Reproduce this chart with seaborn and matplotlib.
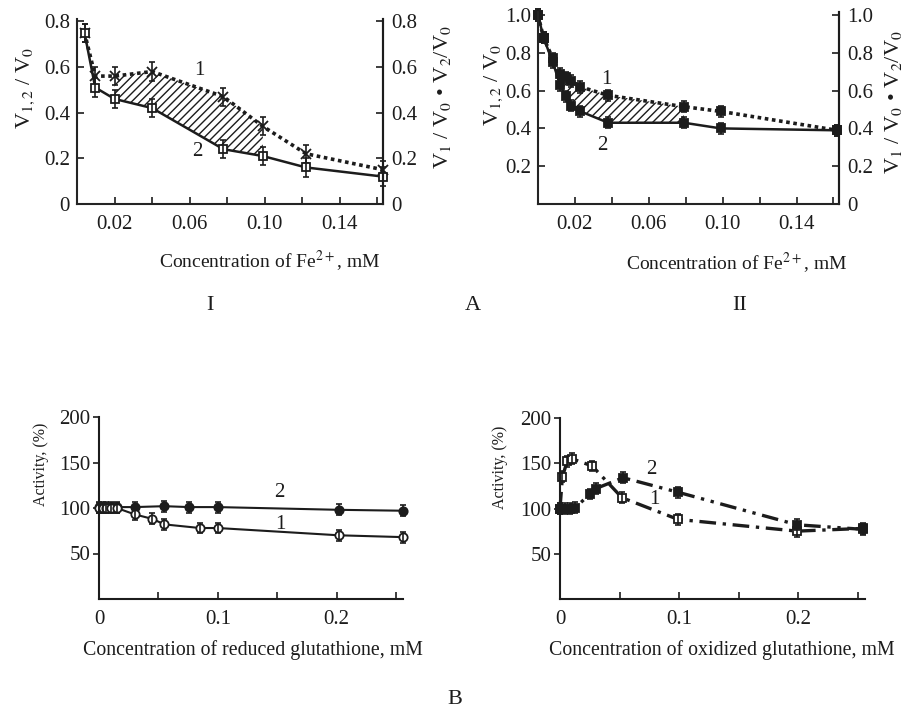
import numpy as np
import seaborn as sns
import matplotlib.pyplot as plt

sns.set_theme(style="ticks")
plt.rcParams['font.family'] = ['Liberation Serif', 'DejaVu Serif']
plt.rcParams['mathtext.fontset'] = 'stix'
plt.rcParams['hatch.linewidth'] = 1.0

ink = "#1c1c1c"

# A-I : Fe2+ (panel I)
fe1_x = [0.004, 0.0097, 0.020, 0.040, 0.078, 0.099, 0.122, 0.163]
fe1_v1 = [0.75, 0.56, 0.56, 0.58, 0.47, 0.34, 0.22, 0.15]
fe1_v2 = [0.75, 0.51, 0.46, 0.42, 0.24, 0.21, 0.16, 0.12]
fe1_err = [0.04, 0.04, 0.04, 0.04, 0.04, 0.04, 0.04, 0.04]

# A-II : Fe2+ (panel II)
fe2_x = [0.0, 0.003, 0.008, 0.012, 0.015, 0.018, 0.023, 0.038, 0.079, 0.099, 0.162]
fe2_v1 = [1.0, 0.88, 0.77, 0.69, 0.67, 0.65, 0.62, 0.575, 0.515, 0.49, 0.39]
fe2_v2 = [1.0, 0.88, 0.75, 0.63, 0.57, 0.52, 0.49, 0.43, 0.43, 0.40, 0.39]
fe2_err = [0.03] * 11

# B : reduced glutathione
red_x1 = [0.0, 0.003, 0.006, 0.010, 0.015, 0.030, 0.045, 0.055, 0.085, 0.100, 0.202, 0.256]
red_y1 = [100, 100, 100, 100, 100, 93, 88, 82, 78, 78, 70, 68]
red_x2 = [0.0, 0.003, 0.006, 0.010, 0.015, 0.030, 0.055, 0.076, 0.100, 0.202, 0.256]
red_y2 = [101, 101, 101, 101, 101, 101, 102, 101, 101, 98, 97]

# B : oxidized glutathione
ox_x1 = [0.0, 0.002, 0.006, 0.010, 0.027, 0.052, 0.099, 0.199, 0.254]
ox_y1 = [100, 135, 152, 155, 147, 112, 88, 75, 78]
ox_x2 = [0.0, 0.004, 0.008, 0.013, 0.025, 0.030, 0.053, 0.099, 0.199, 0.254]
ox_y2 = [100, 100, 100, 101, 116, 122, 134, 118, 82, 77]
act_err = 6

W, H = 910, 716
fig = plt.figure(figsize=(W / 100, H / 100), dpi=100)


def box(l, t, r, b):
    return [l / W, (H - b) / H, (r - l) / W, (b - t) / H]


def curve(ax, x, y, err, ls, lw, marker, mfc, ms=6):
    sns.lineplot(x=x, y=y, ax=ax, color=ink, linewidth=lw, sort=False,
                 marker=marker, markersize=ms, markerfacecolor=mfc,
                 markeredgecolor=ink, markeredgewidth=1.3, clip_on=False)
    ax.lines[-1].set_linestyle(ls)
    ax.errorbar(x, y, yerr=err, fmt='none', ecolor=ink, elinewidth=1.2,
                capsize=2.5, capthick=1.2, clip_on=False)


def style_a(ax, top, ylab_left, lab_l, lab_r, lx, rx, ly, ry, xlx):
    ax.set_xlim(0, 0.163)
    ax.set_ylim(0, top)
    ax.set_xticks([0.02, 0.06, 0.10, 0.14], ["0.02", "0.06", "0.10", "0.14"])
    ax.set_xticks([0.04, 0.08, 0.12, 0.16], minor=True)
    ax.tick_params(axis='x', which='both', direction='in', length=5, width=1.2,
                   labelsize=15, colors=ink, pad=8)
    ax.tick_params(axis='y', direction='in', length=5, width=1.2, labelsize=15,
                   colors=ink, pad=5)
    ax.set_yticks(ylab_left, [f"{v:g}" if v != 1 else "1.0" for v in ylab_left])
    for s in ['left', 'bottom', 'right']:
        ax.spines[s].set_linewidth(1.5)
        ax.spines[s].set_color(ink)
    ax.spines['top'].set_visible(False)
    ax.set_xlabel("Concentration of Fe$^{2+}$, mM", fontsize=14, color=ink)
    ax.xaxis.set_label_coords(xlx, -0.24)
    ax.set_ylabel(lab_l, fontsize=16, color=ink)
    ax.yaxis.set_label_coords(lx, ly)
    ax2 = ax.twinx()
    ax2.set_ylim(0, top)
    rt = [0, 0.2, 0.4, 0.6, 0.8] + ([1.0] if top > 0.9 else [])
    ax2.set_yticks(rt, [f"{v:.1f}" if v else "0" for v in rt])
    ax2.tick_params(axis='y', direction='in', length=5, width=1.2, labelsize=15,
                    colors=ink, pad=6)
    ax2.spines['top'].set_visible(False)
    ax2.spines['right'].set_linewidth(1.5)
    ax2.spines['right'].set_color(ink)
    ax2.set_ylabel(lab_r, fontsize=16, color=ink, rotation=90)
    ax2.yaxis.set_label_coords(rx, ry)


lab_l = r"V$_{1,2}$ / V$_0$"
lab_r = r"V$_1$ / V$_0$ • V$_2$/V$_0$"

# panel I
ax1 = fig.add_axes(box(77, 19, 383, 204))
ax1.fill_between(fe1_x[2:6], fe1_v2[2:6], fe1_v1[2:6], facecolor='none',
                 edgecolor=ink, hatch='////', linewidth=0)
curve(ax1, fe1_x, fe1_v1, fe1_err, (0, (1, 1)), 2.6, 'x', ink, ms=7)
curve(ax1, fe1_x, fe1_v2, fe1_err, '-', 1.8, 's', 'white')
ax1.text(0.065, 0.585, "1", fontsize=15, color=ink, ha='center', va='center')
ax1.text(0.064, 0.23, "2", fontsize=15, color=ink, ha='center', va='center')
style_a(ax1, 0.81, [0, 0.2, 0.4, 0.6, 0.8], lab_l, lab_r, -0.13, 1.16, 0.63, 0.58, 0.63)

# panel II
ax2 = fig.add_axes(box(538, 12, 839, 204))
ax2.fill_between(fe2_x[3:9], fe2_v2[3:9], fe2_v1[3:9], facecolor='none',
                 edgecolor=ink, hatch='////', linewidth=0)
curve(ax2, fe2_x, fe2_v1, fe2_err, (0, (1, 1)), 2.6, 's', ink)
curve(ax2, fe2_x, fe2_v2, fe2_err, '-', 1.8, 's', ink)
ax2.text(0.037, 0.66, "1", fontsize=15, color=ink, ha='center', va='center')
ax2.text(0.035, 0.31, "2", fontsize=15, color=ink, ha='center', va='center')
style_a(ax2, 1.016, [0.2, 0.4, 0.6, 0.8, 1.0], lab_l, lab_r, -0.11, 1.146, 0.62, 0.53, 0.66)


def style_b(ax, xlab, lx, ly, xlx):
    ax.set_xlim(0, 0.256)
    ax.set_ylim(0, 200)
    ax.set_xticks([0, 0.1, 0.2], ["0", "0.1", "0.2"])
    ax.set_xticks([0.05, 0.15, 0.25], minor=True)
    ax.set_yticks([50, 100, 150, 200])
    ax.tick_params(axis='x', which='both', direction='in', length=5, width=1.2,
                   labelsize=15, colors=ink, pad=8)
    ax.tick_params(axis='y', direction='out', length=4, width=1.2, labelsize=15,
                   colors=ink, pad=2)
    for s in ['left', 'bottom']:
        ax.spines[s].set_linewidth(1.5)
        ax.spines[s].set_color(ink)
    sns.despine(ax=ax)
    ax.set_xlabel(xlab, fontsize=14.3, color=ink)
    ax.xaxis.set_label_coords(xlx, -0.225)
    ax.set_ylabel("Activity, (%)", fontsize=11.5, color=ink)
    ax.yaxis.set_label_coords(lx, ly)


ax3 = fig.add_axes(box(99, 417, 403, 599))
curve(ax3, red_x2, red_y2, act_err, '-', 1.5, 'o', ink)
curve(ax3, red_x1, red_y1, act_err, '-', 1.5, 'o', 'white')
ax3.text(0.152, 117, "2", fontsize=15, color=ink, ha='center', va='center')
ax3.text(0.153, 82, "1", fontsize=15, color=ink, ha='center', va='center')
style_b(ax3, "Concentration of reduced glutathione, mM", -0.165, 0.74, 0.505)

ax4 = fig.add_axes(box(560, 418, 865, 599))
curve(ax4, ox_x1, ox_y1, act_err, (0, (5, 2, 1, 2)), 2.4, 's', 'white')
curve(ax4, ox_x2, ox_y2, act_err, (0, (5, 2, 1, 2, 1, 2)), 2.4, 's', ink)
ax4.text(0.077, 143, "2", fontsize=15, color=ink, ha='center', va='center')
ax4.text(0.079, 110, "1", fontsize=15, color=ink, ha='center', va='center')
style_b(ax4, "Concentration of oxidized glutathione, mM", -0.17, 0.73, 0.53)

for txt, x, y in [("I", 210, 305), ("A", 473, 305), ("II", 740, 305), ("B", 455, 700)]:
    fig.text(x / W, 1 - y / H, txt, fontsize=16, color=ink, ha='center', va='center')

fig.savefig("out.png", dpi=100)
